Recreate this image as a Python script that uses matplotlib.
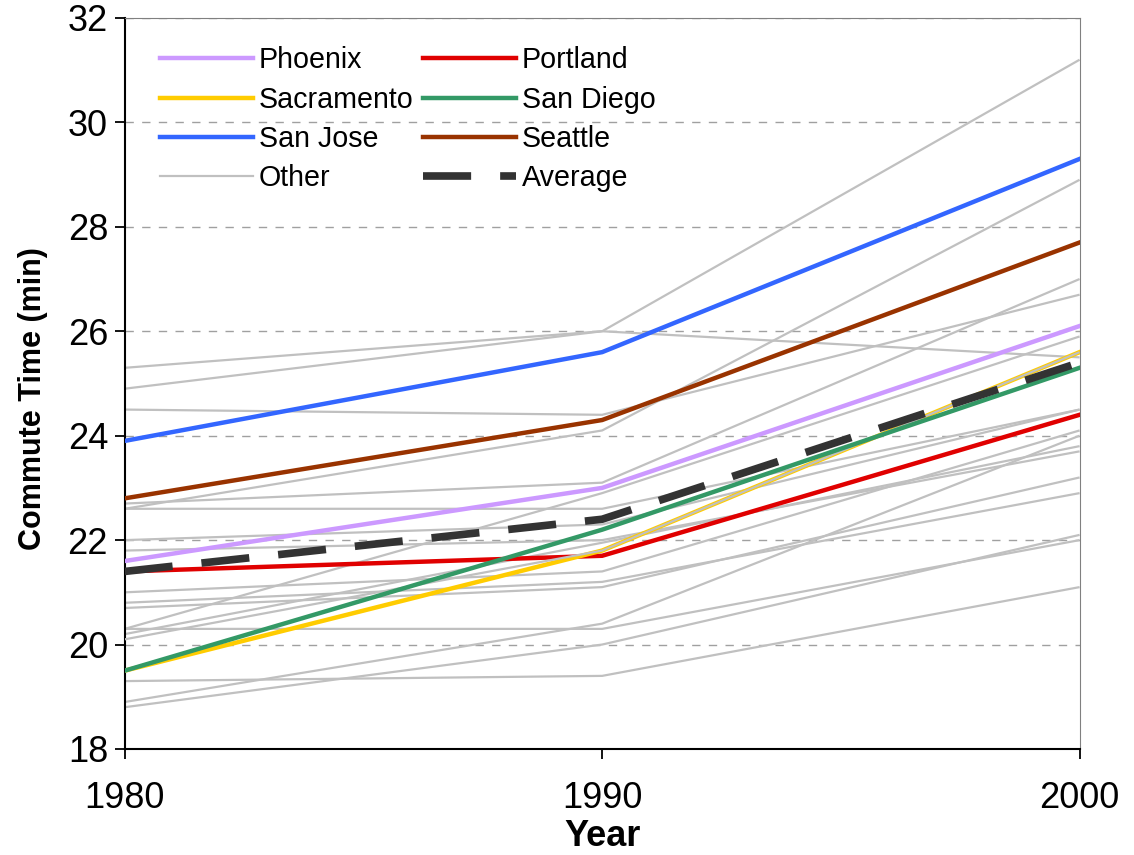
import matplotlib
matplotlib.use("Agg")
import matplotlib.pyplot as plt
from matplotlib.lines import Line2D

plt.rcParams['font.family'] = ['Liberation Sans', 'DejaVu Sans']

years = [1980, 1990, 2000]

# highlighted cities
phoenix = [21.6, 23.0, 26.1]
portland = [21.4, 21.7, 24.4]
sacramento = [19.5, 21.8, 25.6]
san_diego = [19.5, 22.2, 25.3]
san_jose = [23.9, 25.6, 29.3]
seattle = [22.8, 24.3, 27.7]
average = [21.4, 22.4, 25.4]

# the remaining metro areas (grey)
other = [
    [25.3, 26.0, 31.2],
    [24.9, 26.0, 25.5],
    [24.5, 24.4, 26.7],
    [22.6, 24.1, 28.9],
    [22.7, 23.1, 27.0],
    [20.3, 22.9, 25.9],
    [22.6, 22.6, 24.5],
    [22.0, 22.3, 24.5],
    [21.8, 22.0, 23.7],
    [20.2, 21.95, 23.8],
    [21.0, 21.4, 24.1],
    [20.8, 21.2, 22.9],
    [20.7, 21.1, 23.2],
    [20.3, 20.3, 22.0],
    [18.9, 20.4, 24.0],
    [18.8, 20.0, 22.1],
    [19.3, 19.4, 21.1],
    [20.1, 21.8, 25.6],
]

GREY = '#C0C0C0'

fig = plt.figure(figsize=(11.34, 8.55), dpi=100)
ax = fig.add_axes([0.110, 0.124, 0.842, 0.855])

# grey lines; the last one sits on top of Sacramento like in the original
for i, vals in enumerate(other):
    z = 3.5 if i == len(other) - 1 else 2
    ax.plot(years, vals, color=GREY, lw=1.6, zorder=z, solid_capstyle='butt')

ax.plot(years, phoenix, color='#CC99FF', lw=3.2, zorder=3)
ax.plot(years, portland, color='#E00000', lw=3.2, zorder=3)
ax.plot(years, sacramento, color='#FFCC00', lw=3.2, zorder=3)
ax.plot(years, san_diego, color='#339966', lw=3.2, zorder=4)
ax.plot(years, san_jose, color='#3366FF', lw=3.2, zorder=4)
ax.plot(years, seattle, color='#993300', lw=3.2, zorder=4)
ax.plot(years, average, color='#333333', lw=5.5, zorder=5,
        dashes=(6.3, 3.8), solid_capstyle='butt', dash_capstyle='butt')

ax.set_xlim(1980, 2000)
ax.set_ylim(18, 32)
ax.set_xticks(years)
ax.set_yticks(range(18, 33, 2))
ax.tick_params(axis='both', labelsize=26, direction='out', length=7, width=1.3)
ax.tick_params(axis='y', pad=5)
ax.tick_params(axis='x', pad=16)

for y in range(20, 33, 2):
    ax.axhline(y, color='#A0A0A0', lw=1.0, dashes=(6, 6), zorder=1)

ax.spines['left'].set_linewidth(1.5)
ax.spines['bottom'].set_linewidth(1.5)
ax.spines['top'].set_color('#808080')
ax.spines['right'].set_color('#808080')

ax.set_ylabel('Commute Time (min)', fontsize=22, fontweight='bold')
ax.set_xlabel('Year', fontsize=26, fontweight='bold', labelpad=2)
ax.yaxis.set_label_coords(-0.08, 0.48)

# legend, filled column-wise to get the row order of the original
handles = [
    Line2D([], [], color='#CC99FF', lw=3.2),
    Line2D([], [], color='#FFCC00', lw=3.2),
    Line2D([], [], color='#3366FF', lw=3.2),
    Line2D([], [], color=GREY, lw=1.6),
    Line2D([], [], color='#E00000', lw=3.2),
    Line2D([], [], color='#339966', lw=3.2),
    Line2D([], [], color='#993300', lw=3.2),
    Line2D([], [], color='#333333', lw=5.5, dashes=(6.3, 3.8)),
]
labels = ['Phoenix', 'Sacramento', 'San Jose', 'Other',
          'Portland', 'San Diego', 'Seattle', 'Average']
leg = ax.legend(handles, labels, ncol=2, loc='upper left',
                bbox_to_anchor=(0.019, 0.985), frameon=False, fontsize=20.6,
                handlelength=3.25, handletextpad=0.21, columnspacing=0.31,
                labelspacing=0.40, borderaxespad=0.2)
leg.set_zorder(10)

fig.savefig('out.png', dpi=100, facecolor='white')
